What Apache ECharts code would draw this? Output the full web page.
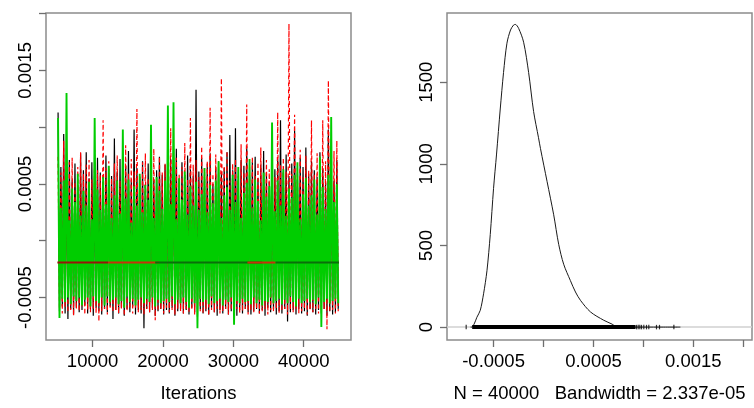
<!DOCTYPE html>
<html><head><meta charset="utf-8">
<script src="https://cdn.jsdelivr.net/npm/echarts@6/dist/echarts.min.js"></script>
<style>html,body{margin:0;padding:0;background:#fff}#c{width:754px;height:408px}</style>
</head><body><div id="c"></div>
<script>
// All parameter values are in units of 1e-4
const iterStart = 5100, iterThin = 200;
const chainBlack = [
11.3,-6.2,6.5,-5.8,9.4,-6.4,5.8,-6.9,7.1,-6.0,5.4,-6.5,6.8,-5.9,4.9,-6.3,7.7,-6.1,6.2,-5.7,
7.8,-6.4,5.5,-6.0,6.9,-6.6,4.8,-5.9,7.3,-6.2,6.0,-6.5,5.2,-6.0,7.5,-6.3,6.3,-5.8,5.7,-6.9,
9.0,-6.1,6.1,-6.4,7.2,-5.9,5.0,-6.6,6.6,-6.0,7.9,-6.3,5.3,-5.8,9.8,-6.5,6.4,-6.1,5.6,-6.4,
7.0,-7.7,4.9,-6.0,6.8,-6.3,7.6,-5.9,5.4,-6.6,6.2,-6.2,7.4,-6.0,5.8,-6.5,6.7,-6.1,5.1,-6.4,
7.2,-5.9,6.0,-6.6,8.1,-6.2,5.5,-6.0,6.9,-6.4,5.2,-6.1,7.5,-6.5,6.3,-5.9,5.7,-6.3,13.3,-6.7,
6.1,-6.0,7.3,-6.4,5.6,-6.2,6.8,-6.5,7.7,-5.9,5.0,-6.3,6.5,-6.6,7.0,-6.1,5.9,-6.4,6.4,-6.0,
7.8,-6.5,9.3,-6.2,6.2,-5.9,9.9,-6.6,5.3,-6.1,7.1,-6.4,6.6,-6.0,8.3,-6.3,5.8,-6.5,6.9,-6.2,
7.4,-6.0,5.5,-6.4,6.7,-6.1,7.9,-6.6,6.0,-5.9,5.2,-6.3,8.0,-6.0,6.3,-6.5,7.2,-6.2,10.6,-6.4,
6.1,-6.0,7.6,-7.1,5.7,-6.3,6.8,-6.1,9.7,-6.5,5.4,-6.0,7.3,-6.4,6.5,-6.2,8.2,-6.6,5.9,-6.0,
7.0,-6.3,6.2,-6.5,5.6,-6.1,7.8,-6.4,6.4,-6.0,5.1,-6.6,9.8,-6.2,6.6,-6.5,5.3,-6.3,7.1,-6.0];
const chainRed = [
7.4,-6.0,6.0,-6.4,8.8,-5.9,5.6,-6.3,6.9,-6.1,7.3,-6.6,5.2,-6.0,6.5,-6.2,7.8,-5.8,5.9,-6.5,
6.7,-6.1,7.1,-6.3,5.4,-6.0,8.0,-6.4,6.2,-7.1,5.8,-6.2,10.6,-6.0,6.4,-6.5,7.0,-5.9,5.5,-6.3,
6.8,-6.1,7.5,-6.4,5.3,-6.0,6.6,-6.6,8.4,-6.2,5.9,-6.0,7.2,-6.4,6.1,-5.9,11.6,-6.3,5.7,-6.1,
6.9,-6.5,7.7,-6.0,5.5,-6.3,6.3,-6.1,8.1,-7.0,5.0,-6.2,7.4,-6.0,6.0,-6.4,6.8,-5.9,5.6,-6.3,
9.9,-6.1,6.2,-6.5,7.3,-6.0,5.8,-6.2,6.5,-6.4,8.6,-6.0,5.4,-6.3,10.8,-6.1,6.7,-6.5,7.1,-6.0,
5.6,-6.2,8.3,-6.4,6.4,-6.0,7.0,-6.6,11.7,-6.1,5.9,-6.3,7.6,-6.0,6.1,-6.4,14.3,-6.2,6.6,-6.0,
7.9,-6.5,5.3,-6.1,6.8,-6.3,7.2,-6.0,5.7,-6.4,8.5,-6.2,6.0,-6.0,12.0,-6.5,6.5,-6.1,7.4,-6.3,
5.8,-6.0,6.9,-6.4,8.2,-6.2,5.5,-6.0,7.1,-6.5,6.3,-6.1,7.8,-6.3,5.6,-6.0,11.3,-6.4,6.7,-6.2,
7.3,-6.0,6.1,-6.5,19.1,-6.1,5.9,-6.3,11.1,-6.0,6.4,-6.4,8.0,-6.2,5.7,-6.0,7.5,-6.5,6.2,-6.1,
10.6,-6.3,5.8,-6.0,7.7,-6.4,6.5,-6.2,10.6,-6.0,7.0,-7.8,14.1,-6.3,6.0,-6.1,7.9,-6.4,8.8,-6.2];
const chainGreen = [
10.8,-6.8,2.9,-5.1,5.3,-5.4,13.0,-5.0,1.8,-5.6,4.6,-4.9,3.4,-5.3,5.9,-5.0,2.2,-5.7,4.4,-5.2,
3.1,-5.0,5.2,-5.8,1.9,-4.9,10.8,-5.3,4.5,-5.5,2.7,-5.0,5.6,-5.7,3.2,-4.9,6.6,-5.4,2.0,-5.2,
4.0,-5.0,5.3,-5.6,2.4,-5.3,9.8,-5.9,3.7,-4.9,5.4,-5.4,1.6,-5.1,4.8,-5.7,3.1,-5.2,5.9,-5.0,
2.5,-5.5,4.9,-5.1,3.6,-5.4,10.2,-5.0,2.0,-5.8,5.6,-5.2,4.4,-5.5,2.8,-5.3,5.3,-5.1,11.9,-5.4,
3.2,-4.9,12.2,-5.6,1.9,-5.2,5.5,-5.5,3.6,-5.0,6.1,-5.4,2.3,-5.9,4.8,-5.1,3.1,-5.5,5.2,-7.7,
2.7,-5.1,4.1,-5.4,6.4,-5.2,2.5,-5.6,4.9,-4.9,3.3,-5.5,5.3,-5.3,7.0,-5.1,2.0,-5.7,4.0,-5.2,
4.7,-5.4,2.7,-5.0,5.8,-7.4,3.4,-5.3,6.5,-5.5,2.0,-5.1,4.2,-5.4,5.1,-5.3,7.2,-5.6,2.9,-5.0,
5.4,-5.5,3.5,-5.2,1.8,-5.7,6.0,-5.3,3.9,-5.4,4.8,-5.0,10.4,-5.5,2.6,-5.3,5.3,-5.1,3.1,-5.6,
6.3,-5.2,2.2,-5.5,4.6,-4.9,3.8,-5.4,5.8,-5.8,6.9,-5.1,1.9,-5.5,4.1,-5.3,5.5,-5.1,3.1,-5.4,
4.0,-5.2,5.4,-5.6,2.3,-5.0,7.4,-7.6,4.7,-5.4,2.8,-5.1,5.8,-5.5,10.9,-5.3,3.4,-5.1,5.0,-5.5];
const midLevel = -1.92;
const midSegStart = [5000, 12200, 18900, 32000, 36000];
const midSegEnd   = [12200, 19500, 34100, 36000, 45000];
const traceXTicks = [10000, 20000, 30000, 40000];
const traceYTicks = [-5, 0, 5, 10, 15, 20];
const traceYLabelValues = [-5, 5, 15];
const traceYLabelText = ['-0.0005', '0.0005', '0.0015'];
const traceXName = 'Iterations';

const densX = [-7.3,-7.17,-6.9,-6.67,-6.33,-6.0,-5.66,-5.33,-5.0,-4.7,-4.33,-4.0,-3.66,-3.3,-3.0,-2.82,-2.49,-1.99,-1.49,-0.99,-0.5,-0.3,0.36,1.02,1.52,2.02,2.69,3.2,3.7,4.7,6.03,6.87,7.2,7.6,9,11,13.7];
const densY = [0,0,25,60,103,204,345,567,850,1060,1336,1560,1739,1820,1850,1854,1830,1745,1560,1320,1160,1093,891,688,507,385,285,215,164,93,42,18,5,0,0,0,0];
const rugDense = [-7.14, -3.0, 0.0, 4.0, 9.21];
const rugSparse = [-7.74, 9.31, 9.48, 9.64, 9.81, 10.04, 10.31, 10.54, 11.31, 11.61, 13.05];
const densXTicks = [-5, 0, 5, 10, 15, 20];
const densXLabelValues = [-5, 5, 15];
const densXLabelText = ['-0.0005', '0.0005', '0.0015'];
const densYTicks = [0, 500, 1000, 1500];
const densXName = 'N = 40000   Bandwidth = 2.337e-05';

const FONT = 'Liberation Sans, Arial, sans-serif';
const FS = 18.5;
const frame = '#8c8c8c';
const tickStyle = {color: '#6e6e6e', width: 1.3};
const midColors = ['#9a1208', '#c8300a', '#0b6e0b', '#c8300a', '#0b6e0b'];

const toXY = arr => arr.map((v, i) => [iterStart + i * iterThin, v]);
const labelStyle = {color: '#000', fontSize: FS, fontFamily: FONT};

const series = [
  {type:'line', xAxisIndex:0, yAxisIndex:0, data: toXY(chainBlack), symbol:'none', lineStyle:{color:'#000000', width:1.2}, z:2},
  {type:'line', xAxisIndex:0, yAxisIndex:0, data: toXY(chainRed), symbol:'none', lineStyle:{color:'#ff0000', width:1.2, type:[4,3]}, z:3},
  {type:'line', xAxisIndex:0, yAxisIndex:0, data: toXY(chainGreen), symbol:'none', lineStyle:{color:'#00cd00', width:1.9}, z:4}
];
midSegStart.forEach((s, k) => {
  series.push({type:'line', xAxisIndex:0, yAxisIndex:0, data:[[s, midLevel],[midSegEnd[k], midLevel]], symbol:'none', lineStyle:{color: midColors[k], width:2}, z:5});
});
series.push(
  {type:'line', xAxisIndex:1, yAxisIndex:1, data: densX.map((x,i)=>[x, densY[i]]), symbol:'none', smooth:0.3, lineStyle:{color:'#1a1a1a', width:1}, z:4,
   markLine:{silent:true, symbol:'none', label:{show:false}, lineStyle:{color:'#d0d0d0', width:1.5, type:'solid'}, data:[{yAxis:0}], z:1}},
  {type:'line', xAxisIndex:1, yAxisIndex:1, data: rugDense.map(x=>[x,0]), symbol:'none', lineStyle:{color:'#000', width:4}, z:5},
  {type:'scatter', xAxisIndex:1, yAxisIndex:1, data: rugSparse.map(x=>[x,0]), symbol:'rect', symbolSize:[1.2,4.5], itemStyle:{color:'#000'}, z:5}
);

const chart = echarts.init(document.getElementById('c'), null, {renderer:'canvas'});
chart.setOption({
  animation:false,
  backgroundColor:'#fff',
  grid:[
    {left:46, top:13, width:305, height:330, show:true, borderColor:frame, borderWidth:1.5, backgroundColor:'transparent'},
    {left:447, top:13, width:305, height:330, show:true, borderColor:frame, borderWidth:1.5, backgroundColor:'transparent'}
  ],
  xAxis:[
    {type:'value', gridIndex:0, min:3385, max:46714, axisLine:{show:false, onZero:false}, splitLine:{show:false},
     axisTick:{show:true, customValues:traceXTicks, length:7, lineStyle:tickStyle},
     axisLabel:Object.assign({customValues:traceXTicks, margin:12, formatter:v=>String(v)}, labelStyle),
     name:traceXName, nameLocation:'middle', nameGap:44, nameTextStyle:labelStyle},
    {type:'value', gridIndex:1, min:-9.66, max:20.87, axisLine:{show:false, onZero:false}, splitLine:{show:false},
     axisTick:{show:true, customValues:densXTicks, length:7, lineStyle:tickStyle},
     axisLabel:Object.assign({customValues:densXLabelValues, margin:12, formatter:v=>densXLabelText[densXLabelValues.indexOf(v)]}, labelStyle),
     name:densXName, nameLocation:'middle', nameGap:44, nameTextStyle:labelStyle}
  ],
  yAxis:[
    {type:'value', gridIndex:0, min:-8.74, max:20.05, axisLine:{show:false, onZero:false}, splitLine:{show:false},
     axisTick:{show:true, customValues:traceYTicks, length:7, lineStyle:tickStyle},
     axisLabel:Object.assign({customValues:traceYLabelValues, margin:11, rotate:90, align:'center', verticalAlign:'bottom', formatter:v=>traceYLabelText[traceYLabelValues.indexOf(v)]}, labelStyle)},
    {type:'value', gridIndex:1, min:-79, max:1924, axisLine:{show:false, onZero:false}, splitLine:{show:false},
     axisTick:{show:true, customValues:densYTicks, length:7, lineStyle:tickStyle},
     axisLabel:Object.assign({customValues:densYTicks, margin:11, rotate:90, align:'center', verticalAlign:'bottom', formatter:v=>String(v)}, labelStyle)}
  ],
  series: series
});
</script></body></html>
